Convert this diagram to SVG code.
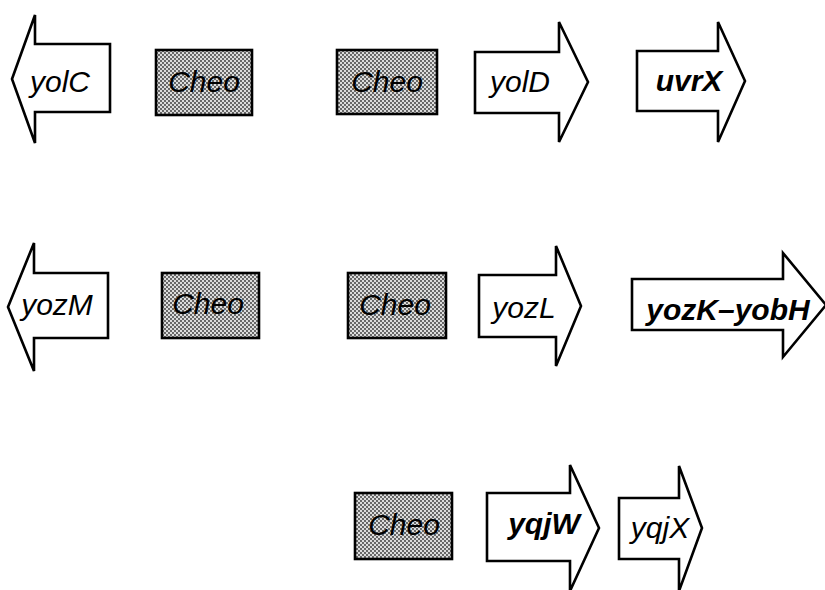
<svg xmlns="http://www.w3.org/2000/svg" width="825" height="590" viewBox="0 0 825 590">
  <defs>
    <!-- halftone screen used for the promoter boxes -->
    <pattern id="dots" width="4" height="4" patternUnits="userSpaceOnUse">
      <rect width="4" height="4" fill="#dcdcdc"/>
      <circle cx="1" cy="1" r="0.9" fill="#303030"/>
      <circle cx="3" cy="3" r="0.9" fill="#303030"/>
    </pattern>
  </defs>
  <style>
    .gene { fill: #ffffff; stroke: #000000; stroke-width: 2.6; stroke-linejoin: miter; }
    .cheo { fill: url(#dots); stroke: #000000; stroke-width: 2.6; }
    text { font-family: "Liberation Sans", Arial, sans-serif; font-style: italic; font-size: 30px; text-anchor: middle; fill: #000000; }
    .b { font-weight: bold; }
  </style>
  <rect width="825" height="590" fill="#ffffff"/>

  <!-- Row 1 -->
  <g id="yolC">
    <polygon class="gene" points="12,79 35,15 35,44 110,44 110,112 35,112 35,143"/>
    <text x="60" y="92">yolC</text>
  </g>
  <g id="cheo1">
    <rect class="cheo" x="156" y="50" width="96" height="65"/>
    <text x="204" y="92">Cheo</text>
  </g>
  <g id="cheo2">
    <rect class="cheo" x="337" y="50" width="100" height="64"/>
    <text x="387" y="92">Cheo</text>
  </g>
  <g id="yolD">
    <polygon class="gene" points="475,52 559,52 559,22 588,82 559,142 559,113 475,113"/>
    <text x="520" y="92">yolD</text>
  </g>
  <g id="uvrX">
    <polygon class="gene" points="637,51 718,51 718,22 745,81 718,142 718,111 637,111"/>
    <text class="b" x="689" y="91" font-size="31">uvrX</text>
  </g>

  <!-- Row 2 -->
  <g id="yozM">
    <polygon class="gene" points="8,307 34,243 34,273 108,273 108,338 34,338 34,371"/>
    <text x="57" y="315" font-size="31">yozM</text>
  </g>
  <g id="cheo3">
    <rect class="cheo" x="162" y="273" width="97" height="65"/>
    <text x="208" y="314">Cheo</text>
  </g>
  <g id="cheo4">
    <rect class="cheo" x="348" y="273" width="98" height="65"/>
    <text x="395" y="315">Cheo</text>
  </g>
  <g id="yozL">
    <polygon class="gene" points="479,275 556,275 556,246 581,306 556,366 556,337 479,337"/>
    <text x="524" y="318" font-size="31">yozL</text>
  </g>
  <g id="yozK-yobH">
    <polygon class="gene" points="632,279 783,279 783,253 826,305 783,357 783,330 632,330"/>
    <text class="b" x="728" y="320" font-size="33">yozK–yobH</text>
  </g>

  <!-- Row 3 -->
  <g id="cheo5">
    <rect class="cheo" x="355" y="493" width="97" height="66"/>
    <text x="404" y="535">Cheo</text>
  </g>
  <g id="yqjW">
    <polygon class="gene" points="487,493 570,493 570,465 599,528 570,591 570,561 487,561"/>
    <text class="b" x="544" y="534">yqjW</text>
  </g>
  <g id="yqjX">
    <polygon class="gene" points="619,498 679,498 679,466 702,528 679,591 679,559 619,559"/>
    <text x="660" y="538">yqjX</text>
  </g>

  <g id="connectors"/>
</svg>
